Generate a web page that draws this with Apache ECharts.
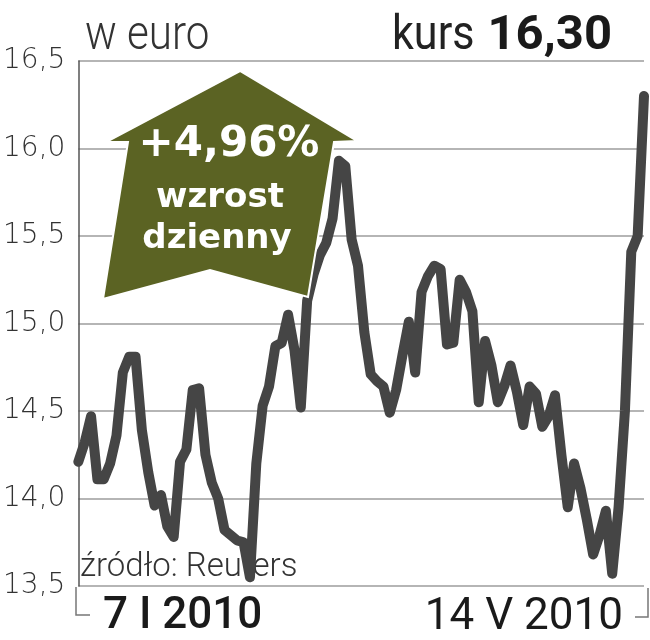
<!DOCTYPE html>
<html>
<head>
<meta charset="utf-8">
<script src="https://cdn.jsdelivr.net/npm/echarts@6/dist/echarts.min.js"></script>
<style>
html,body{margin:0;padding:0;background:#fff;}
#chart{width:650px;height:640px;}
</style>
</head>
<body>
<div id="chart"></div>
<script>
// ---- data ----
var prices = [
  14.21,14.32,14.47,14.11,14.11,14.20,14.36,14.72,14.81,14.81,
  14.39,14.15,13.96,14.02,13.84,13.78,14.21,14.28,14.62,14.63,
  14.25,14.09,14.00,13.82,13.79,13.76,13.75,13.55,14.20,14.53,
  14.64,14.87,14.89,15.05,14.85,14.52,15.13,15.28,15.39,15.46,
  15.60,15.93,15.90,15.48,15.33,14.95,14.71,14.67,14.64,14.49,
  14.62,14.82,15.01,14.72,15.18,15.27,15.33,15.31,14.88,14.89,
  15.25,15.18,15.07,14.55,14.90,14.76,14.55,14.64,14.76,14.61,
  14.42,14.64,14.60,14.41,14.47,14.59,14.25,13.95,14.20,14.06,
  13.88,13.68,13.79,13.93,13.57,13.95,14.50,15.41,15.50,16.30
];
var days = prices.map(function (_, i) { return 'd' + i; });
var yTicks = [13.5, 14.0, 14.5, 15.0, 15.5, 16.0, 16.5];
var startLabel = '7 I 2010';
var endLabel = '14 V 2010';
var unitLabel = 'w euro';
var lastLabel = 'kurs';
var lastValue = '16,30';
var changeLabel = '+4,96%';
var changeText = ['wzrost', 'dzienny'];
var sourceLabel = 'źródło: Reuters';

var chart = echarts.init(document.getElementById('chart'), null, {renderer: 'canvas'});
var option = {
  animation: false,
  backgroundColor: '#ffffff',
  grid: {left: 76, right: 6, top: 61, bottom: 54},
  xAxis: {
    type: 'category',
    data: days,
    boundaryGap: false,
    axisLine: {show: false},
    axisTick: {show: false},
    axisLabel: {show: false},
    splitLine: {show: false}
  },
  yAxis: {
    type: 'value',
    min: yTicks[0],
    max: yTicks[yTicks.length - 1],
    interval: 0.5,
    axisLine: {show: true, lineStyle: {color: '#555', width: 1.5}},
    axisTick: {show: false},
    axisLabel: {
      margin: 13,
      color: '#333',
      fontFamily: 'DejaVu Sans',
      fontWeight: 200,
      fontSize: 28,
      formatter: function (v) { return v.toFixed(1).replace('.', ','); }
    },
    splitLine: {show: true, lineStyle: {color: '#9c9c9c', width: 1.5}}
  },
  series: [{
    type: 'line',
    data: prices,
    showSymbol: false,
    symbol: 'none',
    z: 5,
    lineStyle: {color: '#454545', width: 10, join: 'round', cap: 'round'}
  }],
  graphic: [
    // title texts
    {type: 'text', x: 85, y: 61, scaleX: 0.86, z: 10,
      style: {text: unitLabel, x: 0, y: 0, fill: '#333', font: '300 49px Roboto', textAlign: 'left', textVerticalAlign: 'bottom'}},
    {type: 'text', x: 392, y: 61, scaleX: 0.88, z: 10,
      style: {text: lastLabel, x: 0, y: 0, fill: '#222', font: '400 49px Roboto', textAlign: 'left', textVerticalAlign: 'bottom'}},
    {type: 'text', x: 612, y: 61, z: 10,
      style: {text: lastValue, x: 0, y: 0, fill: '#1a1a1a', font: 'bold 49px Roboto', textAlign: 'right', textVerticalAlign: 'bottom'}},
    // arrow
    {type: 'polygon', z: 20,
      shape: {points: [[240,71],[357,141],[334,142],[308,297],[210,270],[103,299],[128,142],[106,142]]},
      style: {fill: '#5b6323', stroke: '#ffffff', lineWidth: 2}},
    {type: 'text', x: 229, y: 145, z: 21,
      style: {text: changeLabel, fill: '#ffffff', font: 'bold 42px "DejaVu Sans"', textAlign: 'center', textVerticalAlign: 'middle'}},
    {type: 'text', x: 220, y: 198, z: 21,
      style: {text: changeText[0], fill: '#ffffff', font: 'bold 34px "DejaVu Sans"', textAlign: 'center', textVerticalAlign: 'middle'}},
    {type: 'text', x: 217, y: 239, z: 21,
      style: {text: changeText[1], fill: '#ffffff', font: 'bold 34px "DejaVu Sans"', textAlign: 'center', textVerticalAlign: 'middle'}},
    // source (under the line)
    {type: 'text', x: 80, y: 568, z: 1,
      style: {text: sourceLabel, fill: '#333', font: '300 33px Roboto', textAlign: 'left', textVerticalAlign: 'middle'}},
    // bottom date labels
    {type: 'text', x: 103, y: 617, z: 10,
      style: {text: startLabel, fill: '#1a1a1a', font: '500 44px Roboto', textAlign: 'left', textVerticalAlign: 'middle'}},
    {type: 'text', x: 623, y: 618, z: 10,
      style: {text: endLabel, fill: '#1a1a1a', font: '400 44px Roboto', textAlign: 'right', textVerticalAlign: 'middle'}},
    // bracket marks
    {type: 'polyline', z: 10, shape: {points: [[76,587],[76,615],[90,615]]}, style: {stroke: '#777', lineWidth: 1.5, fill: null}},
    {type: 'polyline', z: 10, shape: {points: [[648,588],[648,617],[635,617]]}, style: {stroke: '#777', lineWidth: 1.5, fill: null}}
  ]
};
chart.setOption(option);
</script>
</body>
</html>
